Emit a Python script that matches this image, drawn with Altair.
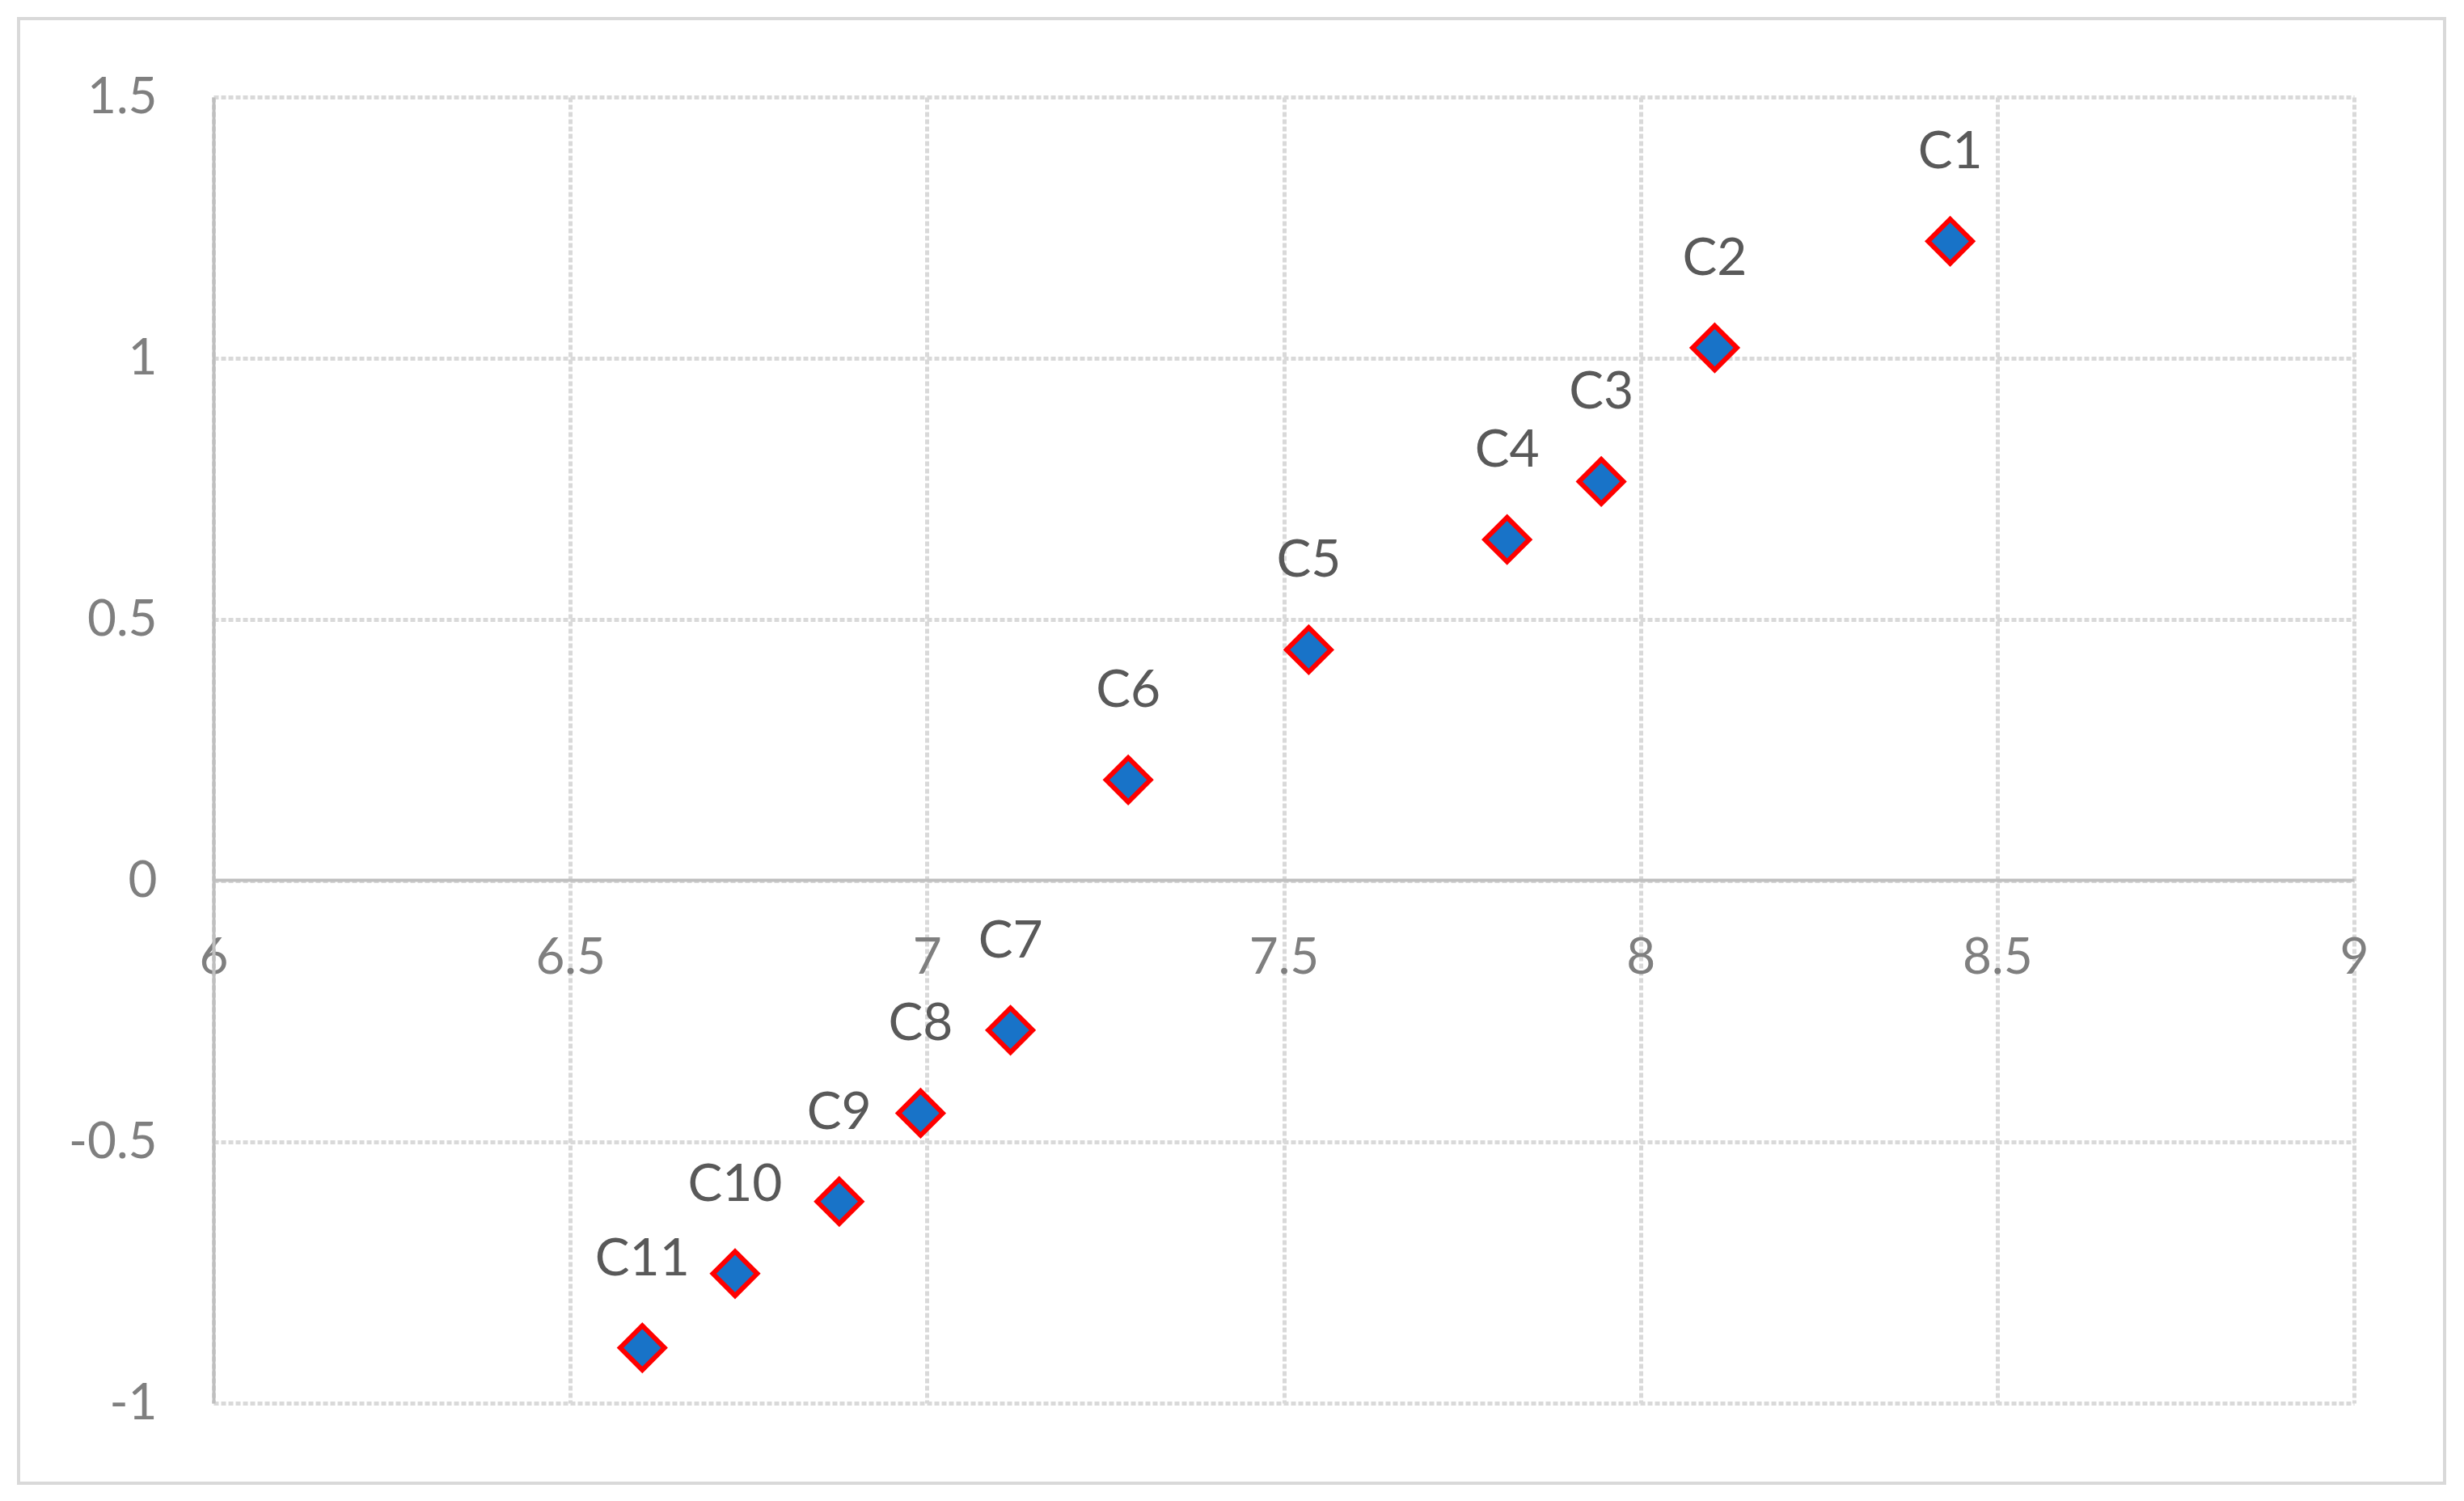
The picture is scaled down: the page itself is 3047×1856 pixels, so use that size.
import altair as alt
import pandas as pd

labels = ["C1", "C2", "C3", "C4", "C5", "C6", "C7", "C8", "C9", "C10", "C11"]
x_vals = [8.434, 8.104, 7.945, 7.813, 7.535, 7.282, 7.117, 6.991, 6.877, 6.731, 6.601]
y_vals = [1.224, 1.020, 0.764, 0.653, 0.442, 0.193, -0.286, -0.445, -0.614, -0.752, -0.894]
x_ticks = [6, 6.5, 7, 7.5, 8, 8.5, 9]
y_ticks = [-1, -0.5, 0, 0.5, 1, 1.5]

df = pd.DataFrame({"label": labels, "x": x_vals, "y": y_vals})

W, H = 2647, 1615
FONT = "Lato"

xscale = alt.Scale(domain=[6, 9], nice=False, zero=False)
yscale = alt.Scale(domain=[-1, 1.5], nice=False, zero=False)

xaxis = alt.Axis(
    values=x_ticks, labelExpr="toString(datum.value)", title=None,
    offset=-647, domain=True, domainColor="#bfbfbf", domainWidth=4,
    ticks=False, labelPadding=66, labelFont=FONT, labelFontSize=62,
    labelColor="#7f7f7f", grid=True, gridColor="#d9d9d9", gridWidth=5,
    gridDash=[6, 3], labelFlush=False, labelOverlap=False,
)
yaxis = alt.Axis(
    values=y_ticks, labelExpr="toString(datum.value)", title=None,
    domain=True, domainColor="#bfbfbf", domainWidth=4,
    ticks=False, labelPadding=70, labelFont=FONT, labelFontSize=62,
    labelColor="#7f7f7f", grid=True, gridColor="#d9d9d9", gridWidth=5,
    gridDash=[6, 3], labelFlush=False, labelOverlap=False,
)

border = alt.Chart(pd.DataFrame({"a": [0]})).mark_rect(
    fill=None, stroke="#d9d9d9", strokeWidth=4, clip=False
).encode(
    x=alt.value(-241), x2=alt.value(2759), y=alt.value(-97), y2=alt.value(1714)
)

points = alt.Chart(df).mark_point(
    shape="diamond", filled=True, fill="#1873C8", stroke="#ff0000",
    strokeWidth=6, size=3000, opacity=1,
).encode(
    x=alt.X("x:Q", scale=xscale, axis=xaxis),
    y=alt.Y("y:Q", scale=yscale, axis=yaxis),
)

text = alt.Chart(df).mark_text(
    font=FONT, fontSize=64, color="#595959", dy=-109, baseline="middle", align="center"
).encode(
    x=alt.X("x:Q", scale=xscale),
    y=alt.Y("y:Q", scale=yscale),
    text="label:N",
)

chart = alt.layer(border, points, text).properties(
    width=W, height=H,
    autosize=alt.AutoSizeParams(type="none"),
    padding={"left": 256, "top": 112, "right": 120, "bottom": 105},
    background="white",
).configure_view(stroke=None)

chart.save("out.html", embed_options={"renderer": "svg", "actions": False})
